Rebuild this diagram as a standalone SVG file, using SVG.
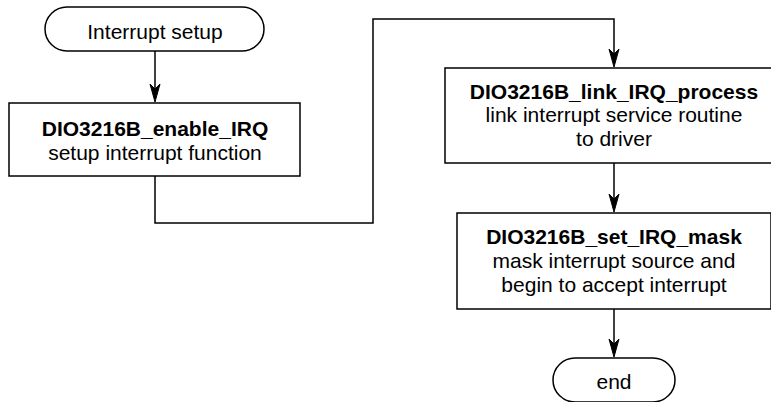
<svg xmlns="http://www.w3.org/2000/svg" width="771" height="402" viewBox="0 0 771 402">
  <style>
    .shape { fill: #ffffff; stroke: #000000; stroke-width: 1.5; }
    .conn { fill: none; stroke: #000000; stroke-width: 1.5; }
    .head { fill: #000000; stroke: #000000; stroke-width: 1; stroke-linejoin: miter; }
    text { font-family: "Liberation Sans", Arial, sans-serif; font-size: 21px; fill: #000000; text-anchor: middle; }
    .b { font-weight: bold; }
  </style>
  <g id="start">
    <rect class="shape" x="45" y="7" width="219" height="44" rx="22" ry="22"/>
    <text x="155" y="39">Interrupt setup</text>
  </g>
  <g id="enable_irq">
    <rect class="shape" x="9" y="103" width="291" height="73"/>
    <text class="b" x="155" y="136">DIO3216B_enable_IRQ</text>
    <text x="155" y="160">setup interrupt function</text>
  </g>
  <g id="link_irq">
    <rect class="shape" x="445" y="68" width="338" height="95"/>
    <text class="b" x="614" y="99">DIO3216B_link_IRQ_process</text>
    <text x="614" y="122">link interrupt service routine</text>
    <text x="614" y="146">to driver</text>
  </g>
  <g id="set_mask">
    <rect class="shape" x="457" y="213" width="314" height="96"/>
    <text class="b" x="614" y="244">DIO3216B_set_IRQ_mask</text>
    <text x="614" y="268">mask interrupt source and</text>
    <text x="614" y="292">begin to accept interrupt</text>
  </g>
  <g id="end">
    <rect class="shape" x="553" y="358" width="122" height="44" rx="22" ry="22"/>
    <text x="614" y="389">end</text>
  </g>
  <g id="connectors">
    <path class="conn" d="M155,51 V96"/>
    <path class="head" d="M155,102 L150,84 L155,89 L160,84 Z"/>
    <path class="conn" d="M155,176 V223 H373 V19 H614 V61"/>
    <path class="head" d="M614,67 L609,49 L614,54 L619,49 Z"/>
    <path class="conn" d="M614,163 V206"/>
    <path class="head" d="M614,212 L609,194 L614,199 L619,194 Z"/>
    <path class="conn" d="M614,309 V351"/>
    <path class="head" d="M614,357 L609,339 L614,344 L619,339 Z"/>
  </g>
</svg>
